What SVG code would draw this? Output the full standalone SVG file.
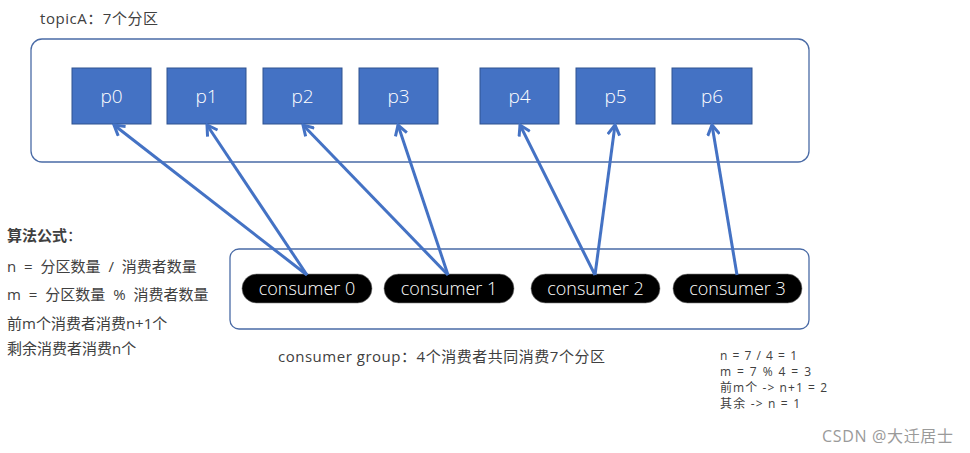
<svg xmlns="http://www.w3.org/2000/svg" width="970" height="453" viewBox="0 0 970 453">
<style>
.t{font-family:"Open Sans","Noto Sans CJK SC",sans-serif;fill:#404040}
.box{fill:none;stroke:#4A6BA6;stroke-width:1.3}
.part{fill:#4472C4;stroke:#2F528F;stroke-width:1}
.pl{font-family:"Open Sans","Noto Sans CJK SC",sans-serif;font-weight:300;font-size:19px;fill:#ffffff;text-anchor:middle}
.pill{fill:#000000;stroke:#7f7f7f;stroke-width:0.6}
.cl{font-family:"Open Sans","Noto Sans CJK SC",sans-serif;font-weight:300;font-size:18px;fill:#ffffff;text-anchor:middle}
.ln{stroke:#4472C4;stroke-width:3;fill:none;marker-end:url(#arr)}
.nt{font-family:"Open Sans","Noto Sans CJK SC",sans-serif;fill:#404040;font-size:12px}
</style>
<defs>
<marker id="arr" viewBox="0 0 14 14" refX="12" refY="7" markerWidth="14" markerHeight="14" markerUnits="userSpaceOnUse" orient="auto">
<path d="M2,1 L12,7 L2,13" fill="none" stroke="#4472C4" stroke-width="3"/>
</marker>
</defs>
<rect width="970" height="453" fill="#ffffff"/>
<text class="t" x="40" y="24" font-size="15" textLength="118" lengthAdjust="spacing">topicA：7个分区</text>
<g id="topic"><rect class="box" x="31" y="39" width="778" height="123" rx="11"/></g>
<g id="p0"><rect class="part" x="72" y="68" width="79" height="56"/><text class="pl" x="111.5" y="103">p0</text></g>
<g id="p1"><rect class="part" x="167" y="68" width="79" height="56"/><text class="pl" x="206.5" y="103">p1</text></g>
<g id="p2"><rect class="part" x="263" y="68" width="79" height="56"/><text class="pl" x="302.5" y="103">p2</text></g>
<g id="p3"><rect class="part" x="359" y="68" width="79" height="56"/><text class="pl" x="398.5" y="103">p3</text></g>
<g id="p4"><rect class="part" x="480" y="68" width="79" height="56"/><text class="pl" x="519.5" y="103">p4</text></g>
<g id="p5"><rect class="part" x="576" y="68" width="79" height="56"/><text class="pl" x="615.5" y="103">p5</text></g>
<g id="p6"><rect class="part" x="672" y="68" width="80" height="56"/><text class="pl" x="712" y="103">p6</text></g>
<g id="group"><rect class="box" x="230" y="249" width="579" height="80" rx="9"/></g>
<g id="c0"><rect class="pill" x="242" y="274" width="130" height="29" rx="14.5"/><text class="cl" x="307" y="295">consumer 0</text></g>
<g id="c1"><rect class="pill" x="384" y="274" width="130" height="29" rx="14.5"/><text class="cl" x="449" y="295">consumer 1</text></g>
<g id="c2"><rect class="pill" x="531" y="274" width="129" height="29" rx="14.5"/><text class="cl" x="595.5" y="295">consumer 2</text></g>
<g id="c3"><rect class="pill" x="673" y="274" width="129" height="29" rx="14.5"/><text class="cl" x="737.5" y="295">consumer 3</text></g>
<g id="connectors">
<line class="ln" x1="307" y1="275" x2="114" y2="125"/>
<line class="ln" x1="307" y1="275" x2="207" y2="125"/>
<line class="ln" x1="448" y1="275" x2="303" y2="125"/>
<line class="ln" x1="448" y1="275" x2="398" y2="125"/>
<line class="ln" x1="595" y1="275" x2="520" y2="125"/>
<line class="ln" x1="595" y1="275" x2="615" y2="125"/>
<line class="ln" x1="737" y1="275" x2="712" y2="125"/>
</g>
<text class="t" x="7" y="241" font-size="15" font-weight="bold" fill="#000">算法公式<tspan font-weight="normal">：</tspan></text>
<text class="t" x="7" y="272" font-size="15" word-spacing="4">n = 分区数量 / 消费者数量</text>
<text class="t" x="7" y="300" font-size="15" word-spacing="4">m = 分区数量 % 消费者数量</text>
<text class="t" x="7" y="329" font-size="15">前m个消费者消费n+1个</text>
<text class="t" x="7" y="354" font-size="15">剩余消费者消费n个</text>
<text class="t" x="278" y="362" font-size="15" textLength="327" lengthAdjust="spacing">consumer group：4个消费者共同消费7个分区</text>
<text class="nt" x="720" y="360" textLength="77" lengthAdjust="spacing">n = 7 / 4 = 1</text>
<text class="nt" x="720" y="376" textLength="91" lengthAdjust="spacing">m = 7 % 4 = 3</text>
<text class="nt" x="720" y="392" textLength="107" lengthAdjust="spacing">前m个 -&gt; n+1 = 2</text>
<text class="nt" x="720" y="408" textLength="80" lengthAdjust="spacing">其余 -&gt; n = 1</text>
<text x="822" y="442" font-family="'Open Sans','Noto Sans CJK SC',sans-serif" font-size="16" fill="#9a9a9a" textLength="131" lengthAdjust="spacing">CSDN @大迁居士</text>
</svg>
